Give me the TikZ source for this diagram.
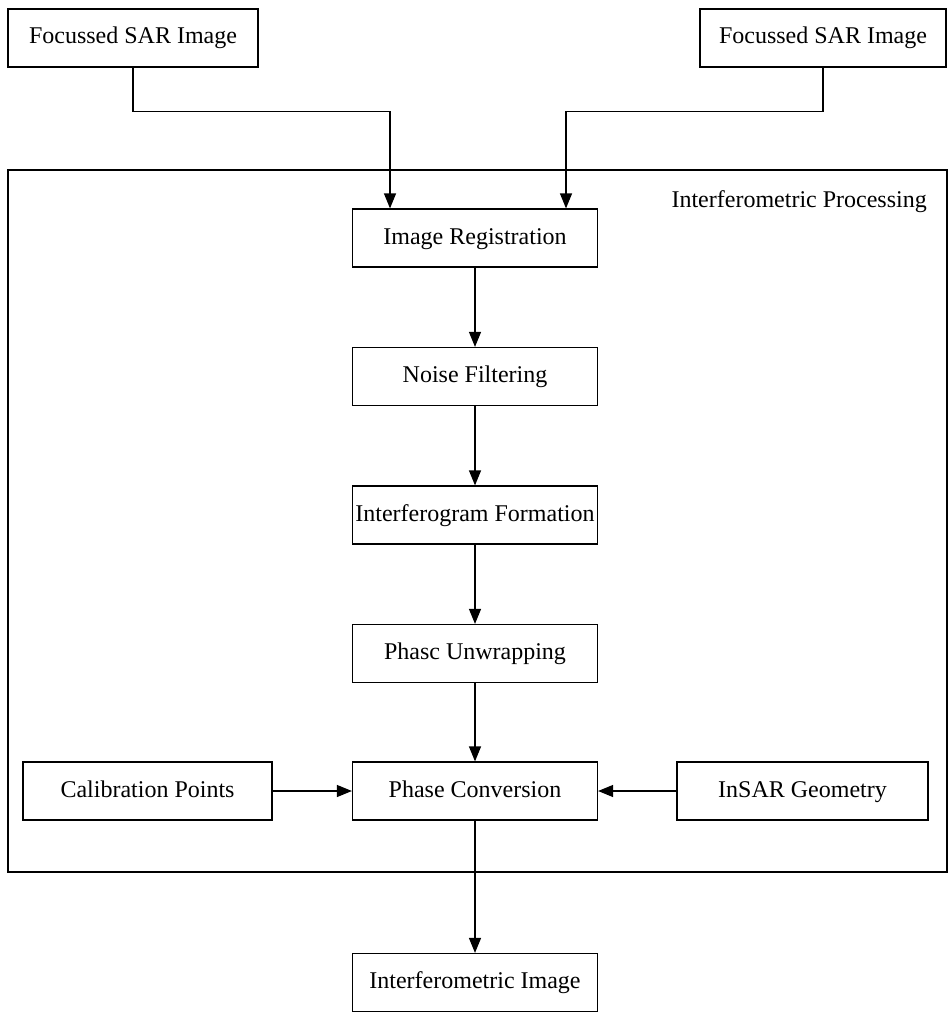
\documentclass[tikz,border=0pt]{standalone}
\usepackage{fontspec}
\setmainfont{Liberation Serif}
\usetikzlibrary{arrows.meta}
\begin{document}
\begin{tikzpicture}[x=1pt,y=1pt,
  every node/.style={font=\fontsize{24}{28}\selectfont},
  stage/.style={draw, line width=1.2pt, minimum width=245pt, minimum height=58pt,
    inner sep=0pt, text height=17pt, text depth=5pt},
  frame/.style={draw, line width=1.2pt, inner sep=0pt},
  arr/.style={line width=1.2pt, -{Triangle[length=15pt,width=12pt]}},
  link/.style={line width=1.2pt}
]
\useasboundingbox (0,0) rectangle (951,-1014);

% input images
\node[stage, minimum width=250pt] (left) at (133,-38) {Focussed SAR Image};
\node[stage, minimum width=246pt] (right) at (823,-38) {Focussed SAR Image};

% processing frame
\node[frame, minimum width=939pt, minimum height=702pt] (proc) at (477.5,-521) {};
\node[anchor=east, inner sep=0pt] (proclabel) at (927,-202) {Interferometric Processing};

% processing chain
\node[stage] (reg) at (475,-238) {Image Registration};
\node[stage] (noise) at (475,-376.5) {Noise Filtering};
\node[stage] (ifg) at (475,-515) {Interferogram Formation};
\node[stage] (unwrap) at (475,-653.5) {Phasc Unwrapping};
\node[stage] (conv) at (475,-791) {Phase Conversion};
\node[stage, minimum width=249pt] (calib) at (147.5,-791) {Calibration Points};
\node[stage, minimum width=251pt] (geom) at (802.5,-791) {InSAR Geometry};

% output
\node[stage] (out) at (475,-982.5) {Interferometric Image};

% connectors
\draw[arr] (left.south) -- ++(0,-44) -| ([xshift=-85pt]reg.north);
\draw[arr] (right.south) -- ++(0,-44) -| ([xshift=91pt]reg.north);
\draw[arr] (reg) -- (noise);
\draw[arr] (noise) -- (ifg);
\draw[arr] (ifg) -- (unwrap);
\draw[arr] (unwrap) -- (conv);
\draw[arr] (calib) -- (conv);
\draw[arr] (geom) -- (conv);
\draw[arr] (conv) -- (out);
\end{tikzpicture}
\end{document}
